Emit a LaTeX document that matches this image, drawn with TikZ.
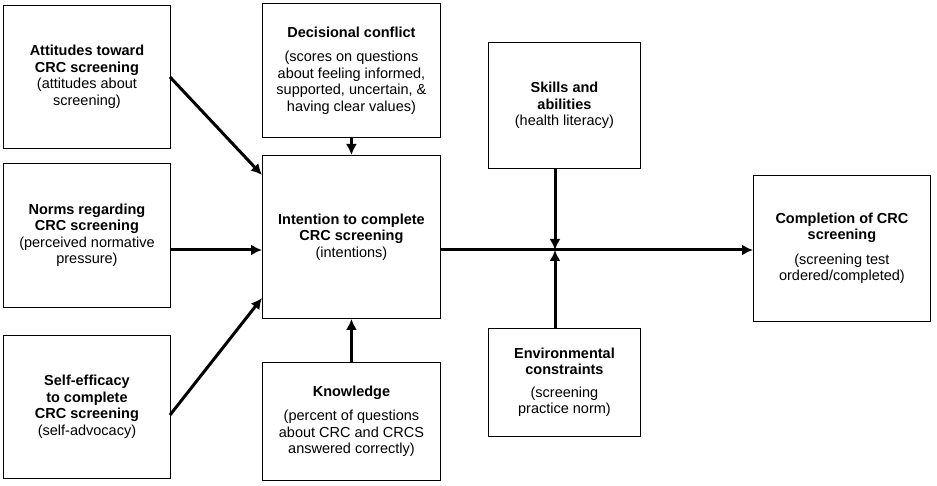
\documentclass[tikz,border=0pt]{standalone}
\usepackage{fontspec}
\setmainfont{Liberation Sans}
\usetikzlibrary{arrows.meta}
\begin{document}
\begin{tikzpicture}[x=1pt,y=-1pt,
  box/.style={draw,line width=0.9pt,align=center,font=\fontsize{14.5}{16.5}\selectfont,inner sep=2pt},
  arr/.style={line width=3pt,-{Latex[length=11pt,width=11pt]}}]
\useasboundingbox (0,0) rectangle (937,486);
\node[box,minimum width=167pt,minimum height=143pt,anchor=north west] (att) at (3,5) {\textbf{Attitudes toward}\\\textbf{CRC screening}\\(attitudes about\\screening)};
\node[box,minimum width=167pt,minimum height=144pt,anchor=north west] (nor) at (3,163) {\textbf{Norms regarding}\\\textbf{CRC screening}\\(perceived normative\\pressure)};
\node[box,minimum width=167pt,minimum height=143pt,anchor=north west] (sef) at (3,335) {\textbf{Self-efficacy}\\\textbf{to complete}\\\textbf{CRC screening}\\(self-advocacy)};
\node[box,minimum width=178pt,minimum height=134pt,anchor=north west] (dec) at (262,3) {\textbf{Decisional conflict}\\[8pt](scores on questions\\about feeling informed,\\supported, uncertain, \&\\having clear values)};
\node[box,minimum width=178pt,minimum height=163pt,anchor=north west] (int) at (262,155) {\textbf{Intention to complete}\\\textbf{CRC screening}\\(intentions)};
\node[box,minimum width=178pt,minimum height=118pt,anchor=north west] (kno) at (262,362) {\textbf{Knowledge}\\[8pt](percent of questions\\about CRC  and CRCS\\answered correctly)};
\node[box,minimum width=152pt,minimum height=126pt,anchor=north west] (ski) at (488,42) {\textbf{Skills and}\\\textbf{abilities}\\(health literacy)};
\node[box,minimum width=152pt,minimum height=108pt,anchor=north west] (env) at (488,328) {\textbf{Environmental}\\\textbf{constraints}\\[6pt](screening\\practice norm)};
\node[box,minimum width=177pt,minimum height=146pt,anchor=north west] (com) at (753,175) {\textbf{Completion of CRC}\\\textbf{screening}\\[8pt](screening test\\ordered/completed)};
\coordinate (j) at (555,250);
\draw[arr] (170,77) -- (262,175);
\draw[arr] (nor.east |- j) -- (int.west |- j);
\draw[arr] (170,415) -- (262,298);
\draw[arr] (dec.south) -- (int.north);
\draw[arr] (kno.north) -- (int.south);
\draw[arr] (int.east |- j) -- (com.west |- j);
\draw[arr] (ski.south -| j) -- (j);
\draw[arr] (env.north -| j) -- (j);
\end{tikzpicture}
\end{document}
